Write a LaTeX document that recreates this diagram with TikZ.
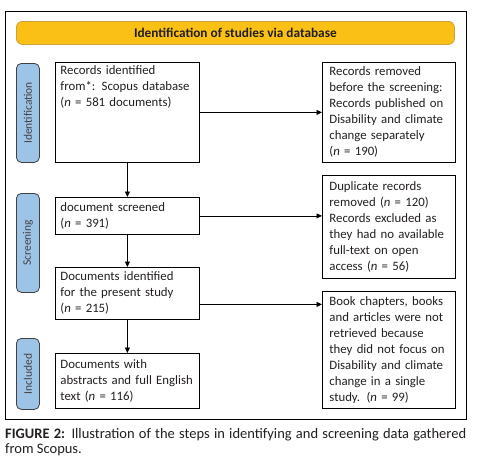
\documentclass[tikz,border=0pt]{standalone}
\usepackage{fontspec}
\setmainfont{Carlito}
\usetikzlibrary{arrows.meta,calc}
\definecolor{bannerfill}{HTML}{FBC016}
\definecolor{bannerdraw}{HTML}{C9A23A}
\definecolor{stagefill}{HTML}{9DC3E6}
\definecolor{stagedraw}{HTML}{404040}
\definecolor{txt}{HTML}{231F20}
\newcommand{\nn}{\textit{n}}
\hbadness=10000 \hfuzz=20pt
\tikzset{
  stepbox/.style={draw=black, line width=0.8pt, anchor=north west, align=left,
    inner ysep=0pt, font=\fontsize{12.8}{16}\selectfont, text=txt},
  leftbox/.style={stepbox, inner xsep=5pt, text width=134pt},
  rightbox/.style={stepbox, inner xsep=7pt, text width=119pt},
  stage/.style={draw=stagedraw, line width=0.8pt, fill=stagefill, rounded corners=5pt,
    rotate=90, anchor=north east, minimum height=23pt, inner sep=0pt,
    font=\fontsize{11.5}{14}\selectfont, text=txt!85},
  flow/.style={-{Triangle[length=5.5pt,width=5pt]}, line width=0.8pt, black},
}
\begin{document}
\begin{tikzpicture}[x=1pt,y=-1pt]
\useasboundingbox (0,0) rectangle (479,469);
% outer frame
\draw[line width=1pt, black] (5,11) rectangle (466,419);
% banner
\node[draw=bannerdraw, fill=bannerfill, line width=0.8pt, rounded corners=6pt,
  minimum width=438pt, minimum height=23pt, inner sep=0pt, anchor=north west,
  font=\bfseries\fontsize{13.3}{15}\selectfont, text=txt] (banner) at (16,21)
  {Identification of studies via database};
% stage labels
\node[stage, minimum width=99pt] (sid) at (16,63) {Identification};
\node[stage, minimum width=99pt] (sscr) at (16,193) {Screening};
\node[stage, minimum width=71pt] (sinc) at (16,338) {Included};
% left boxes
\node[leftbox, minimum height=100pt] (A) at (55,62)
  {\parbox[c][92pt][t]{134pt}{\raggedright\vspace*{-1pt}Records identified\\\mbox{from*: Scopus database}\\\mbox{(\nn{} = 581 documents)}}};
\node[leftbox, minimum height=37pt] (B) at (55,197)
  {document screened\\(\nn{} = 391)};
\node[leftbox, minimum height=52pt] (C) at (55,267)
  {\mbox{Documents identified}\\\mbox{for the present study}\\(\nn{} = 215)};
\node[leftbox, minimum height=55pt] (D) at (55,353)
  {Documents with\\\mbox{abstracts and full English}\\\mbox{text (\nn{} = 116)}};
% right boxes
\node[rightbox, minimum height=100pt] (R1) at (322,62)
  {Records removed\\\mbox{before the screening:}\\\mbox{Records published on}\\\mbox{Disability and climate}\\\mbox{change separately}\\(\nn{} = 190)};
\node[rightbox, minimum height=103pt] (R2) at (322,175)
  {Duplicate records\\\mbox{removed (\nn{} = 120)}\\\mbox{Records excluded as}\\\mbox{they had no available}\\\mbox{full-text on open}\\\mbox{access (\nn{} = 56)}};
\node[rightbox, minimum height=117pt] (R3) at (322,291)
  {\mbox{Book chapters, books}\\\mbox{and articles were not}\\\mbox{retrieved because}\\\mbox{they did not focus on}\\\mbox{Disability and climate}\\\mbox{change in a single}\\\mbox{study. (\nn{} = 99)}};
% connectors
\draw[flow] (A.south) -- (B.north);
\draw[flow] (B.south) -- (C.north);
\draw[flow] (C.south) -- (D.north);
\draw[flow] (A.east) -- (A.east -| R1.west);
\draw[flow] (B.east) -- (B.east -| R2.west);
\draw[flow] ([yshift=-11pt]C.east) -- ([yshift=-11pt]C.east -| R3.west);
% caption
\node[anchor=north west, inner sep=0pt, text width=461pt, align=justify,
  font=\fontsize{14.5}{15}\selectfont, text=txt] (cap) at (5,428)
  {\textbf{FIGURE 2:} Illustration of the steps in identifying and screening data gathered from Scopus.};
\end{tikzpicture}
\end{document}
